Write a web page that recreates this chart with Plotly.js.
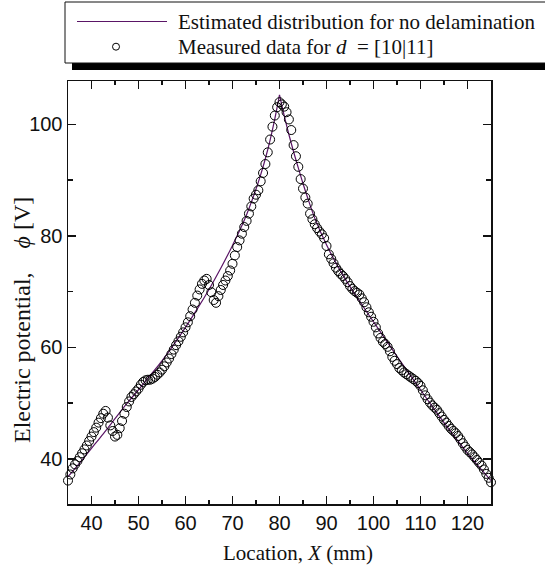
<!DOCTYPE html>
<html>
<head>
<meta charset="utf-8">
<script src="https://cdn.plot.ly/plotly-3.0.1.min.js"></script>
<style>
  html, body { margin: 0; padding: 0; background: #fff; }
  #chart { width: 545px; height: 567px; }
</style>
</head>
<body>
<div id="chart"></div>
<script>
// Measured potential along the specimen, d = [10|11] (0.5 mm pitch)
const locationMm = [
  35.0, 35.5, 36.0, 36.5, 37.0, 37.5, 38.0, 38.5, 39.0, 39.5,
  40.0, 40.5, 41.0, 41.5, 42.0, 42.5, 43.0, 43.5, 44.0, 44.5,
  45.0, 45.5, 46.0, 46.5, 47.0, 47.5, 48.0, 48.5, 49.0, 49.5,
  50.0, 50.5, 51.0, 51.5, 52.0, 52.5, 53.0, 53.5, 54.0, 54.5,
  55.0, 55.5, 56.0, 56.5, 57.0, 57.5, 58.0, 58.5, 59.0, 59.5,
  60.0, 60.5, 61.0, 61.5, 62.0, 62.5, 63.0, 63.5, 64.0, 64.5,
  65.0, 65.5, 66.0, 66.5, 67.0, 67.5, 68.0, 68.5, 69.0, 69.5,
  70.0, 70.5, 71.0, 71.5, 72.0, 72.5, 73.0, 73.5, 74.0, 74.5,
  75.0, 75.5, 76.0, 76.5, 77.0, 77.5, 78.0, 78.5, 79.0, 79.5,
  80.0, 80.5, 81.0, 81.5, 82.0, 82.5, 83.0, 83.5, 84.0, 84.5,
  85.0, 85.5, 86.0, 86.5, 87.0, 87.5, 88.0, 88.5, 89.0, 89.5,
  90.0, 90.5, 91.0, 91.5, 92.0, 92.5, 93.0, 93.5, 94.0, 94.5,
  95.0, 95.5, 96.0, 96.5, 97.0, 97.5, 98.0, 98.5, 99.0, 99.5,
  100.0, 100.5, 101.0, 101.5, 102.0, 102.5, 103.0, 103.5, 104.0, 104.5,
  105.0, 105.5, 106.0, 106.5, 107.0, 107.5, 108.0, 108.5, 109.0, 109.5,
  110.0, 110.5, 111.0, 111.5, 112.0, 112.5, 113.0, 113.5, 114.0, 114.5,
  115.0, 115.5, 116.0, 116.5, 117.0, 117.5, 118.0, 118.5, 119.0, 119.5,
  120.0, 120.5, 121.0, 121.5, 122.0, 122.5, 123.0, 123.5, 124.0, 124.5,
  125.0
];
const measuredV = [
  36.1, 37.2, 38.3, 39.0, 39.6, 40.3, 41.0, 41.7, 42.4, 43.2,
  44.0, 44.8, 45.6, 46.5, 47.3, 48.1, 48.6, 47.4, 46.0, 45.0,
  44.0, 44.3, 45.5, 46.8, 48.1, 49.3, 50.3, 51.1, 51.6, 52.1,
  52.6, 53.3, 53.8, 54.1, 54.2, 54.2, 54.4, 54.7, 55.1, 55.5,
  56.0, 56.6, 57.3, 58.0, 58.8, 59.6, 60.4, 61.1, 61.9, 62.7,
  63.6, 64.5, 65.6, 66.8, 68.0, 69.3, 70.4, 71.4, 72.0, 72.3,
  71.2, 69.9, 68.5, 68.0, 69.2, 70.3, 71.2, 72.0, 72.8, 73.8,
  75.0, 76.5, 78.0, 79.2, 80.4, 81.6, 82.7, 84.0, 85.3, 86.7,
  87.4, 88.2, 89.8, 91.3, 92.9, 95.0, 97.3, 99.6, 101.6, 103.1,
  104.0, 103.6, 103.2, 102.2, 100.9, 99.0, 96.3, 94.3, 92.4, 90.2,
  88.5, 86.9, 85.8, 84.0, 83.0, 82.1, 81.4, 80.8, 80.3, 79.6,
  78.2, 76.7, 75.9, 75.1, 74.3, 73.7, 73.2, 72.8, 72.3, 71.7,
  71.0, 70.5, 70.1, 69.8, 69.5, 68.8, 68.1, 67.2, 66.3, 65.5,
  64.6, 63.6, 62.5, 61.7, 61.0, 60.6, 60.1, 59.3, 58.3, 57.6,
  57.0, 56.3, 55.9, 55.5, 55.2, 54.9, 54.6, 54.3, 54.0, 53.6,
  53.1, 52.3, 51.4, 50.7, 50.1, 49.6, 49.2, 48.8, 48.2, 47.6,
  47.0, 46.5, 45.9, 45.4, 45.0, 44.6, 44.1, 43.5, 42.8, 42.2,
  41.6, 41.2, 40.8, 40.3, 39.8, 39.3, 38.8, 38.1, 37.3, 36.6,
  35.8
];

// Estimated distribution without delamination, split at the electrode (80 mm)
const estLeftX  = [35, 37.5, 40, 42.5, 45, 47.5, 50, 52.5, 55, 57.5, 60, 62.5, 65, 67.5, 70, 72.5, 75, 76, 77, 78, 79, 80];
const estLeftV  = [36.8, 39.3, 41.9, 44.5, 47.2, 49.9, 52.4, 55.0, 57.6, 60.5, 63.6, 66.9, 70.4, 74.2, 78.3, 82.8, 88.4, 91.0, 93.9, 97.2, 101.0, 105.3];
const estRightX = [80, 81, 82, 83, 84, 85, 86, 87.5, 90, 92.5, 95, 97.5, 100, 102.5, 105, 107.5, 110, 112.5, 115, 117.5, 120, 122.5, 125];
const estRightV = [105.3, 101.6, 98.2, 95.1, 92.2, 89.4, 86.8, 83.2, 78.4, 74.4, 70.9, 67.7, 64.6, 61.5, 58.4, 55.4, 52.4, 49.4, 46.5, 43.7, 41.0, 38.5, 36.1];

const xTickVals = [40, 50, 60, 70, 80, 90, 100, 110, 120];
const yTickVals = [40, 60, 80, 100];

const legendLabels = [
  'Estimated distribution for no delamination',
  'Measured data for <i>d</i>\u00A0\u00A0= [10|11]'
];
const xTitle = 'Location, <i>X</i> (mm)';
const yTitle = 'Electric potential,\u00A0\u00A0\u00A0\u00A0<i>\u03D5</i>\u00A0[V]';

const LINE_COLOR = '#5a1566';
const SERIF = '"Liberation Serif", "Times New Roman", serif';
const SANS = '"Liberation Sans", Arial, sans-serif';

const traces = [
  {
    x: estLeftX, y: estLeftV, type: 'scatter', mode: 'lines',
    line: { color: LINE_COLOR, width: 1.2, shape: 'spline', smoothing: 1 },
    name: legendLabels[0], showlegend: false, hoverinfo: 'skip'
  },
  {
    x: estRightX, y: estRightV, type: 'scatter', mode: 'lines',
    line: { color: LINE_COLOR, width: 1.2, shape: 'spline', smoothing: 1 },
    name: legendLabels[0], showlegend: false, hoverinfo: 'skip'
  },
  {
    x: locationMm, y: measuredV, type: 'scatter', mode: 'markers',
    marker: { symbol: 'circle-open', size: 9, color: '#000', line: { width: 1, color: '#000' } },
    name: legendLabels[1], showlegend: false, cliponaxis: false
  }
];

// plot-area geometry in pixels, used for the hand-built legend box
const M = { l: 68, r: 54, t: 81, b: 63 };
const W = 545, H = 567;
const pw = W - M.l - M.r, ph = H - M.t - M.b;
const px = v => (v - M.l) / pw;          // page x -> paper x
const py = v => (H - M.b - v) / ph;      // page y -> paper y

const axisCommon = {
  showgrid: false, zeroline: false, showline: true,
  linecolor: '#111', linewidth: 1.5, mirror: 'ticks',
  ticks: 'inside', ticklen: 8, tickwidth: 1.5, tickcolor: '#111',
  tickfont: { family: SANS, size: 20, color: '#111' }
};

const layout = {
  width: W, height: H,
  margin: M,
  paper_bgcolor: '#fff', plot_bgcolor: '#fff',
  showlegend: false,
  xaxis: Object.assign({}, axisCommon, {
    range: [35, 125], tickvals: xTickVals,
    minor: { dtick: 5, tick0: 0, ticks: 'inside', ticklen: 4, tickwidth: 1.5, tickcolor: '#111' }
  }),
  yaxis: Object.assign({}, axisCommon, {
    range: [31.9, 107.8], tickvals: yTickVals,
    minor: { dtick: 10, tick0: 0, ticks: 'inside', ticklen: 5, tickwidth: 1.5, tickcolor: '#111' }
  }),
  shapes: [
    // legend drop shadow and frame
    { type: 'rect', xref: 'paper', yref: 'paper', x0: px(72), x1: px(600), y0: py(70), y1: py(40),
      fillcolor: '#000', line: { width: 0 } },
    { type: 'rect', xref: 'paper', yref: 'paper', x0: px(65), x1: px(600), y0: py(63), y1: py(2),
      fillcolor: '#fff', line: { color: '#111', width: 1 } },
    // legend samples
    { type: 'line', xref: 'paper', yref: 'paper', x0: px(77), x1: px(167), y0: py(21.5), y1: py(21.5),
      line: { color: LINE_COLOR, width: 1.2 } },
    { type: 'circle', xref: 'paper', yref: 'paper', x0: px(112.5), x1: px(119.5), y0: py(50.2), y1: py(43.2),
      line: { color: '#000', width: 1 }, fillcolor: 'rgba(0,0,0,0)' }
  ],
  annotations: [
    { xref: 'paper', yref: 'paper', x: px(176), y: py(21.5), xanchor: 'left', yanchor: 'middle',
      text: legendLabels[0], showarrow: false, font: { family: SERIF, size: 21, color: '#111' } },
    { xref: 'paper', yref: 'paper', x: px(176), y: py(46.5), xanchor: 'left', yanchor: 'middle',
      text: legendLabels[1], showarrow: false, font: { family: SERIF, size: 21, color: '#111' } },
    { xref: 'paper', yref: 'paper', x: px(297.5), y: py(553), xanchor: 'center', yanchor: 'middle',
      text: xTitle, showarrow: false, font: { family: SERIF, size: 21, color: '#111' } },
    { xref: 'paper', yref: 'paper', x: px(22), y: py(320), xanchor: 'center', yanchor: 'middle',
      textangle: -90, text: yTitle, showarrow: false, font: { family: SERIF, size: 24, color: '#111' } }
  ]
};

Plotly.newPlot('chart', traces, layout, { staticPlot: true, displayModeBar: false });
</script>
</body>
</html>
